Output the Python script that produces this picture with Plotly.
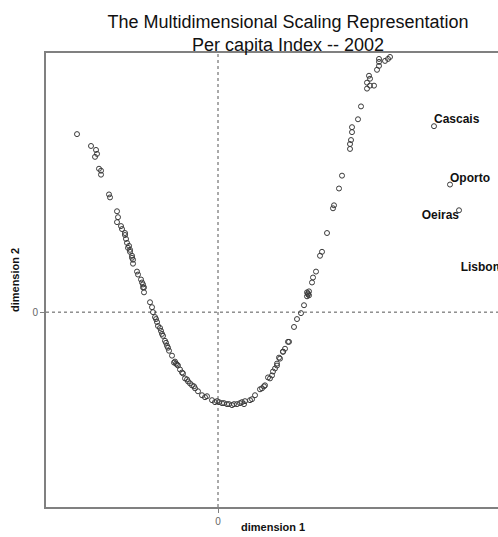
import plotly.graph_objects as go

# MDS coordinates (dimension 1, dimension 2) of the municipalities
dim1 = [-1.41, -1.27, -1.22, -1.21, -1.23, -1.19, -1.17, -1.17, -1.09, -1.08,
        -1.01, -1.00, -1.01, -0.97, -0.96, -0.93, -0.92, -0.91, -0.90, -0.88,
        -0.86, -0.85, -0.85, -0.81, -0.80, -0.77, -0.75, -0.74,
        -0.76, -0.75, -0.74, -0.68, -0.66, -0.65, -0.63, -0.61, -0.60, -0.57,
        -0.55, -0.53, -0.51, -0.49, -0.46, -0.43, -0.40, -0.35, -0.33, -0.30,
        -0.26, -0.23, -0.20, -0.16, -0.11, -0.06, -0.01, 0.04, 0.09, 0.14,
        0.19, 0.22, 0.27, 0.32, 0.37, 0.42, 0.47, 0.50, 0.54, 0.57, 0.59,
        0.61, 0.65, 0.70,
        0.52, 0.55, 0.59, 0.62, 0.65, 0.67, 0.71, 0.76, 0.79, 0.83, 0.86,
        0.89, 0.89, 0.91, 0.94, 0.95, 0.98, 1.02, 1.04, 1.09,
        1.15, 1.16, 1.21, 1.24, 1.32, 1.32, 1.33, 1.34, 1.34, 1.40, 1.43,
        1.49, 1.52, 1.56, 1.49, 1.52, 1.51, 1.59, 1.61, 1.61, 1.61, 1.67,
        1.70, 1.72,
        -0.44, -0.42, -0.41, -0.38, -0.36, -0.31, -0.28, -0.24, -0.13, -0.03,
        0.01, 0.06, 0.11, 0.16, 0.24, 0.26, 0.34, 0.44, 0.46,
        -0.58, -0.56, -0.52, -0.50, -0.62, -0.88, -0.86, -0.93, -0.89,
        0.90, 0.90, 0.91]
dim2 = [1.80, 1.68, 1.64, 1.60, 1.57, 1.45, 1.43, 1.39, 1.19, 1.16,
        1.02, 0.96, 0.91, 0.87, 0.84, 0.78, 0.74, 0.70, 0.65, 0.61,
        0.57, 0.53, 0.49, 0.41, 0.38, 0.33, 0.28, 0.25,
        0.30, 0.25, 0.20, 0.10, 0.05, 0.00, -0.05, -0.10, -0.14, -0.19,
        -0.24, -0.29, -0.34, -0.39, -0.44, -0.50, -0.54, -0.62, -0.67, -0.70,
        -0.74, -0.77, -0.80, -0.84, -0.85, -0.89, -0.90, -0.92, -0.93, -0.94,
        -0.93, -0.92, -0.90, -0.89, -0.84, -0.78, -0.74, -0.66, -0.64, -0.57,
        -0.52, -0.46, -0.40, -0.30,
        -0.67, -0.60, -0.54, -0.47, -0.40, -0.37, -0.30, -0.15, -0.07, -0.01,
        0.07, 0.16, 0.20, 0.21, 0.30, 0.35, 0.41, 0.57, 0.61, 0.80,
        1.05, 1.08, 1.25, 1.38, 1.65, 1.70, 1.74, 1.82, 1.87, 1.95, 2.08,
        2.26, 2.29, 2.29, 2.32, 2.36, 2.39, 2.45, 2.49, 2.53, 2.56, 2.54,
        2.56, 2.58,
        -0.51, -0.52, -0.53, -0.58, -0.61, -0.68, -0.72, -0.75, -0.86, -0.91,
        -0.91, -0.92, -0.93, -0.93, -0.91, -0.93, -0.88, -0.77, -0.75,
        -0.16, -0.22, -0.31, -0.36, -0.07, 0.63, 0.55, 0.80, 0.67,
        0.18, 0.19, 0.17]

# labelled outliers
city_names = ["Cascais", "Oporto", "Oeiras", "Lisbon"]
city_dim1 = [2.16, 2.32, 2.41, 2.82]
city_dim2 = [1.88, 1.29, 1.03, 0.45]
city_textpos = ["top right", "top right", "bottom left", "middle left"]

marker_style = dict(symbol="circle-open", size=5, color="#3a3a3a",
                    line=dict(width=1, color="#3a3a3a"))

fig = go.Figure()
fig.add_trace(go.Scatter(x=dim1 + city_dim1, y=dim2 + city_dim2, mode="markers",
                         marker=marker_style, hoverinfo="skip", showlegend=False))
fig.add_trace(go.Scatter(x=city_dim1, y=city_dim2, mode="text", text=city_names,
                         textposition=city_textpos, cliponaxis=False,
                         textfont=dict(family="Liberation Sans, Arial", size=12,
                                       color="#111111", weight="bold"),
                         hoverinfo="skip", showlegend=False))

dot = dict(color="#555555", width=1, dash="dot")
fig.add_shape(type="line", xref="x", yref="paper", x0=0, x1=0, y0=0, y1=1,
              line=dot, layer="below")
fig.add_shape(type="line", xref="paper", yref="y", x0=0, x1=1, y0=0, y1=0,
              line=dot, layer="below")

fig.update_layout(
    width=540, height=537,
    margin=dict(l=46, r=10, t=53, b=25),
    paper_bgcolor="white", plot_bgcolor="white",
    font=dict(family="Liberation Sans, Arial"),
    title=dict(text="The Multidimensional Scaling Representation<br>Per capita Index -- 2002",
               x=0.5, xref="paper", xanchor="center",
               y=0.948, yref="container", yanchor="top",
               font=dict(size=18, color="#111111")),
    xaxis=dict(range=[-1.72, 3.12], showgrid=False, zeroline=False,
               showline=True, linecolor="#808080", linewidth=2, mirror=True,
               tickvals=[0], ticktext=["0"], ticks="outside", ticklen=4,
               tickcolor="#808080", tickfont=dict(size=10, color="#666666")),
    yaxis=dict(range=[-1.97, 2.62], showgrid=False, zeroline=False,
               showline=True, linecolor="#808080", linewidth=2, mirror=False,
               tickvals=[0], ticktext=["0"], ticks="outside", ticklen=4,
               tickcolor="#808080", tickfont=dict(size=10, color="#666666")),
    annotations=[
        dict(text="dimension 1", xref="paper", yref="paper", x=0.469, y=-0.0436,
             xanchor="center", yanchor="middle", showarrow=False,
             font=dict(size=11, color="#111111", weight="bold")),
        dict(text="dimension 2", xref="paper", yref="paper", x=-0.064, y=0.5,
             xanchor="center", yanchor="middle", showarrow=False, textangle=-90,
             font=dict(size=11, color="#111111", weight="bold")),
    ],
)

fig.write_html("out.html", config={"displayModeBar": False},
               post_script="document.body.style.margin='0';"
                           "document.body.style.overflow='hidden';")
